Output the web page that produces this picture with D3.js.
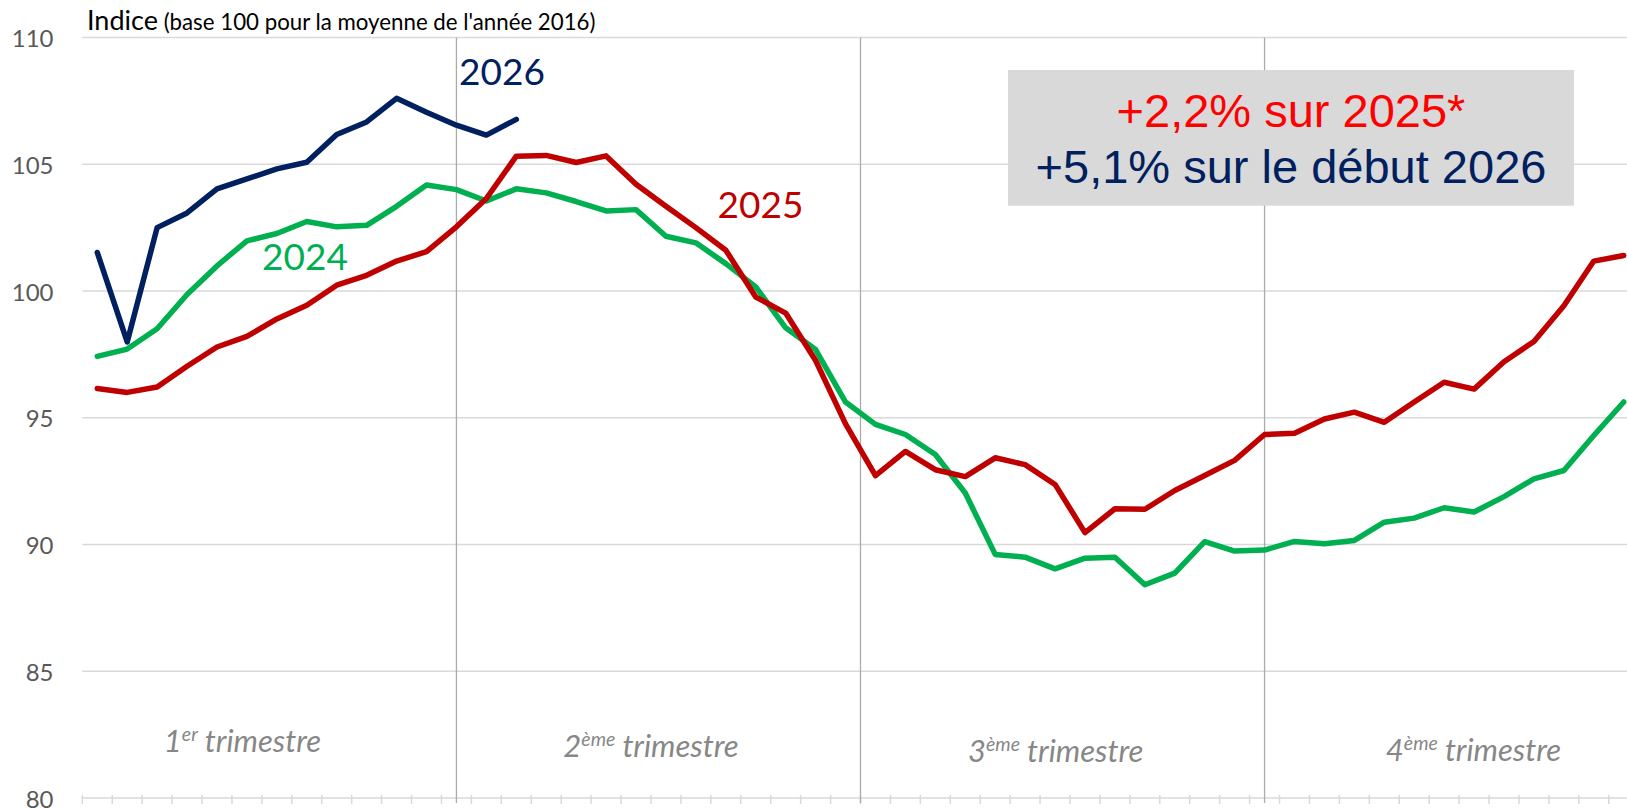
<!DOCTYPE html>
<html><head><meta charset="utf-8">
<script src="https://cdn.jsdelivr.net/npm/d3@7"></script>
<style>html,body{margin:0;padding:0;background:#fff;overflow:hidden}</style>
</head><body>
<svg id="c" width="1627" height="808"></svg>
<script>
// ---------- DATA ----------
const weeks = d3.range(1, 53); // 52 weekly categories
const values2024 = [97.42, 97.71, 98.51, 99.86, 100.99, 101.98, 102.27, 102.74, 102.53, 102.59,
  103.34, 104.18, 104.00, 103.55, 104.03, 103.87, 103.53, 103.16, 103.21, 102.16,
  101.90, 101.08, 100.16, 98.55, 97.69, 95.62, 94.74, 94.34, 93.55, 92.03,
  89.61, 89.50, 89.04, 89.46, 89.50, 88.41, 88.87, 90.11, 89.74, 89.78,
  90.12, 90.03, 90.16, 90.88, 91.04, 91.45, 91.28, 91.89, 92.59, 92.92, 94.30, 95.62];
const values2025 = [96.15, 96.00, 96.21, 97.03, 97.79, 98.21, 98.90, 99.44, 100.23, 100.62,
  101.18, 101.55, 102.53, 103.65, 105.32, 105.35, 105.07, 105.33, 104.21, 103.34,
  102.50, 101.61, 99.76, 99.13, 97.26, 94.76, 92.72, 93.67, 92.95, 92.68,
  93.42, 93.15, 92.37, 90.47, 91.41, 91.39, 92.13, 92.72, 93.32, 94.34,
  94.39, 94.95, 95.22, 94.82, 95.62, 96.40, 96.13, 97.21, 98.01, 99.42, 101.18, 101.40];
const values2026 = [101.52, 97.99, 102.50, 103.08, 104.03, 104.42, 104.82, 105.08, 106.17, 106.67,
  107.60, 107.05, 106.54, 106.15, 106.77];
const seriesNames = ["2024", "2025", "2026"];
const yTicks = [80, 85, 90, 95, 100, 105, 110];
const quarterBreaks = [12, 25.5, 39];          // week index where separators sit
const quarterNums = ["1", "2", "3", "4"];
const quarterSups = ["er", "ème", "ème", "ème"];
const quarterWord = "trimestre";
const titleMain = "Indice";
const titleSub = " (base 100 pour la moyenne de l'année 2016)";
const boxLine1 = "+2,2% sur 2025*";
const boxLine2 = "+5,1% sur le début 2026";

// ---------- LAYOUT ----------
const svg = d3.select("#c");
const x = d3.scaleLinear().domain([-0.5, 51.5]).range([82.3, 1638.7]);
const y = d3.scaleLinear().domain([80, 110]).range([798, 37.5]);
const colors = {"2024": "#00b050", "2025": "#c00000", "2026": "#002060"};
const FONT = "Lato, 'Open Sans', sans-serif";

// gridlines
svg.append("g").selectAll("line").data(yTicks).join("line")
  .attr("x1", x(-0.5)).attr("x2", 1627)
  .attr("y1", d => y(d)).attr("y2", d => y(d))
  .attr("stroke", "#d9d9d9").attr("stroke-width", 1.5);

// y tick labels
svg.append("g").selectAll("text").data(yTicks).join("text")
  .attr("x", 53.5).attr("y", d => y(d))
  .attr("text-anchor", "end").attr("dominant-baseline", "central")
  .attr("font-family", FONT).attr("font-size", 24).attr("fill", "#595959")
  .text(d => d);

// x tick marks at category boundaries
const tickPos = weeks.map((w, i) => i - 0.5).concat([51.5]);
svg.append("g").selectAll("line").data(tickPos).join("line")
  .attr("x1", d => x(d)).attr("x2", d => x(d))
  .attr("y1", y(80) - 3).attr("y2", y(80) + 6)
  .attr("stroke", "#d9d9d9").attr("stroke-width", 1.5);

// quarter separators
svg.append("g").selectAll("line").data(quarterBreaks).join("line")
  .attr("x1", d => x(d)).attr("x2", d => x(d))
  .attr("y1", y(110)).attr("y2", y(80) + 5)
  .attr("stroke", "#ababab").attr("stroke-width", 1.3);

// quarter labels
const qPos = [4.85, 18.5, 32.02, 45.98];
const qBase = [752, 757, 761.5, 761];
const qg = svg.append("g");
quarterNums.forEach((n, i) => {
  const t = qg.append("text")
    .attr("x", x(qPos[i])).attr("y", qBase[i])
    .attr("text-anchor", "middle")
    .attr("font-family", FONT).attr("font-style", "italic")
    .attr("font-size", 31).attr("fill", "#878787");
  t.append("tspan").text(n);
  t.append("tspan").attr("font-size", 19.5).attr("dy", -11).text(quarterSups[i]);
  t.append("tspan").attr("dy", 11).text(" " + quarterWord);
});

// lines
const line = d3.line().x((d, i) => x(i)).y(d => y(d));
const series = [values2024, values2025, values2026];
svg.append("g").selectAll("path").data(series).join("path")
  .attr("d", d => line(d))
  .attr("fill", "none")
  .attr("stroke", (d, i) => colors[seriesNames[i]])
  .attr("stroke-width", 5.5)
  .attr("stroke-linejoin", "round")
  .attr("stroke-linecap", "round");

// series labels
const labelPos = {"2024": [262, 270], "2025": [717.5, 218.3], "2026": [459, 85]};
seriesNames.forEach(s => {
  svg.append("text").attr("x", labelPos[s][0]).attr("y", labelPos[s][1])
    .attr("font-family", FONT).attr("font-size", 37)
    .attr("fill", colors[s]).text(s);
});

// title
const title = svg.append("text").attr("x", 87).attr("y", 30)
  .attr("font-family", FONT).attr("fill", "#000");
title.append("tspan").attr("font-size", 27).text(titleMain);
const sub = title.append("tspan").attr("font-size", 19).text(titleSub);
const subLen = sub.node().getComputedTextLength();
sub.attr("font-size", 19 * 438 / subLen);

// annotation box
const bx0 = 1008, bx1 = 1574, by0 = 70, by1 = 205.7;
svg.append("rect").attr("x", bx0).attr("y", by0)
  .attr("width", bx1 - bx0).attr("height", by1 - by0).attr("fill", "#d9d9d9");
svg.append("text").attr("x", (bx0 + bx1) / 2).attr("y", 126.7)
  .attr("text-anchor", "middle").attr("font-family", "'Liberation Sans', Arial, sans-serif")
  .attr("font-size", 47).attr("fill", "#ff0000").text(boxLine1);
svg.append("text").attr("x", (bx0 + bx1) / 2).attr("y", 183.3)
  .attr("text-anchor", "middle").attr("font-family", "'Liberation Sans', Arial, sans-serif")
  .attr("font-size", 47).attr("fill", "#002060").text(boxLine2);
</script>
</body></html>
